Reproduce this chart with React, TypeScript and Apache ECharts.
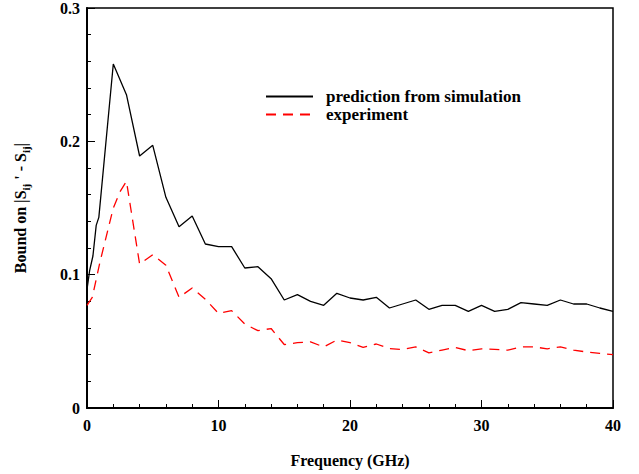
import React, { useEffect, useRef } from "react";
import * as echarts from "echarts";

const simX = [0, 0.2, 0.45, 0.7, 0.9, 2, 3, 4, 5, 6, 7, 8, 9, 10, 11, 12, 13, 14, 15, 16, 17, 18, 19, 20, 21, 22, 23, 24, 25, 26, 27, 28, 29, 30, 31, 32, 33, 34, 35, 36, 37, 38, 39, 40];
const simY = [0.089, 0.103, 0.114, 0.137, 0.143, 0.258, 0.235, 0.189, 0.197, 0.158, 0.136, 0.144, 0.123, 0.121, 0.121, 0.105, 0.106, 0.097, 0.081, 0.085, 0.08, 0.077, 0.086, 0.0825, 0.081, 0.083, 0.075, 0.078, 0.081, 0.074, 0.077, 0.077, 0.0725, 0.077, 0.0725, 0.074, 0.079, 0.078, 0.077, 0.081, 0.078, 0.078, 0.075, 0.0725];

const expX = [0, 0.4, 1, 2, 2.5, 3, 4, 5, 6, 7, 8, 9, 10, 11, 12, 13, 14, 15, 16, 17, 18, 19, 20, 21, 22, 23, 24, 25, 26, 27, 28, 29, 30, 31, 32, 33, 34, 35, 36, 37, 38, 39, 40];
const expY = [0.077, 0.083, 0.11, 0.15, 0.162, 0.17, 0.108, 0.115, 0.107, 0.083, 0.09, 0.0815, 0.071, 0.073, 0.063, 0.058, 0.0596, 0.0476, 0.049, 0.0496, 0.0458, 0.051, 0.049, 0.0454, 0.048, 0.0446, 0.0439, 0.0458, 0.0414, 0.0434, 0.0454, 0.043, 0.0444, 0.044, 0.0434, 0.0458, 0.0458, 0.0444, 0.0458, 0.0434, 0.042, 0.041, 0.04];

const seriesNames = ["prediction from simulation", "experiment"];
const xAxisTitle = "Frequency (GHz)";

const FONT = "Liberation Serif";

export default function App() {
  const ref = useRef<HTMLDivElement>(null);
  useEffect(() => {
    if (!ref.current) return;
    const chart = echarts.init(ref.current, null, { renderer: "svg" });
    const pair = (xs: number[], ys: number[]) => xs.map((x, i) => [x, ys[i]]);
    chart.setOption({
      animation: false,
      backgroundColor: "#fff",
      textStyle: { fontFamily: FONT },
      grid: {
        left: 87,
        right: 26,
        top: 7,
        bottom: 66,
        show: true,
        borderColor: "#000",
        borderWidth: 1.5,
      },
      legend: {
        orient: "vertical",
        left: 265,
        top: 88,
        padding: 0,
        itemWidth: 47,
        itemHeight: 14,
        itemGap: 1,
        itemStyle: { opacity: 0 },
        textStyle: {
          fontFamily: FONT,
          fontWeight: "bold",
          fontSize: 17,
          color: "#000",
          lineHeight: 17,
          padding: [0, 0, 0, 8],
        },
        data: seriesNames,
      },
      xAxis: {
        type: "value",
        min: 0,
        max: 40,
        interval: 10,
        name: xAxisTitle,
        nameLocation: "middle",
        nameGap: 44,
        nameTextStyle: { fontFamily: FONT, fontWeight: "bold", fontSize: 16, color: "#000" },
        axisLine: { show: true, lineStyle: { color: "#000", width: 2 } },
        axisTick: { show: true, inside: true, length: 8, lineStyle: { color: "#000", width: 1 } },
        minorTick: { show: true, splitNumber: 5, length: 4, lineStyle: { color: "#000", width: 1 } },
        splitLine: { show: false },
        axisLabel: { fontFamily: FONT, fontWeight: "bold", fontSize: 16, color: "#000", margin: 9 },
      },
      yAxis: {
        type: "value",
        min: 0,
        max: 0.3,
        interval: 0.1,
        name: "{n|Bound on |S}{s|ij}{n| ' - S}{s|ij}{n||}",
        nameLocation: "middle",
        nameGap: 56,
        nameRotate: 90,
        nameTextStyle: {
          fontFamily: FONT,
          fontWeight: "bold",
          fontSize: 16,
          color: "#000",
          rich: {
            n: { fontFamily: FONT, fontWeight: "bold", fontSize: 16, color: "#000", verticalAlign: "middle", lineHeight: 22 },
            s: { fontFamily: FONT, fontWeight: "bold", fontSize: 11, color: "#000", verticalAlign: "bottom", lineHeight: 22 },
          },
        },
        axisLine: { show: true, lineStyle: { color: "#000", width: 2 } },
        axisTick: { show: true, inside: true, length: 8, lineStyle: { color: "#000", width: 1 } },
        minorTick: { show: true, splitNumber: 5, length: 4, lineStyle: { color: "#000", width: 1 } },
        splitLine: { show: false },
        axisLabel: {
          fontFamily: FONT,
          fontWeight: "bold",
          fontSize: 16,
          color: "#000",
          margin: 7,
          formatter: (v: number) => (v === 0 ? "0" : v.toFixed(1)),
        },
      },
      series: [
        {
          name: seriesNames[0],
          type: "line",
          data: pair(simX, simY),
          symbol: "none",
          lineStyle: { color: "#000", width: 1.3, type: "solid" },
          itemStyle: { color: "#000" },
        },
        {
          name: seriesNames[1],
          type: "line",
          data: pair(expX, expY),
          symbol: "none",
          lineStyle: { color: "#ff0000", width: 1.3, type: [10, 7] },
          itemStyle: { color: "#ff0000" },
        },
      ],
    });
    return () => chart.dispose();
  }, []);
  return <div ref={ref} style={{ position: "fixed", left: 0, top: 0, width: 639, height: 474 }} />;
}
